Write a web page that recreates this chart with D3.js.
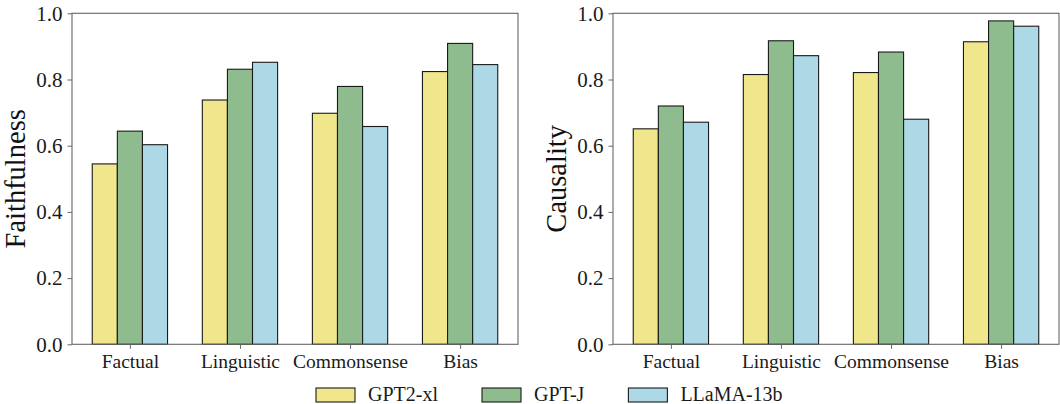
<!DOCTYPE html>
<html>
<head>
<meta charset="utf-8">
<script src="https://cdn.jsdelivr.net/npm/d3@7"></script>
<style>
  body { margin: 0; background: #fff; }
  svg { display: block; font-family: "Liberation Serif", "DejaVu Serif", serif; }
</style>
</head>
<body>
<svg id="chart" width="1060" height="404"></svg>
<script>
const categories = ["Factual", "Linguistic", "Commonsense", "Bias"];
const models = ["GPT2-xl", "GPT-J", "LLaMA-13b"];
const modelColors = ["#F0E68C", "#8FBC8F", "#ADD8E6"];

// faithfulness per model, one value per category
const faithGPT2 = [0.545, 0.738, 0.698, 0.824];
const faithGPTJ = [0.644, 0.831, 0.779, 0.909];
const faithLLaMA = [0.603, 0.852, 0.658, 0.845];

// causality per model
const causGPT2 = [0.651, 0.815, 0.821, 0.914];
const causGPTJ = [0.720, 0.917, 0.883, 0.977];
const causLLaMA = [0.671, 0.872, 0.680, 0.961];

const yTicks = [0, 0.2, 0.4, 0.6, 0.8, 1.0];

const panels = [
  { label: "Faithfulness", series: [faithGPT2, faithGPTJ, faithLLaMA], left: 72 },
  { label: "Causality", series: [causGPT2, causGPTJ, causLLaMA], left: 613 }
];

const svg = d3.select("#chart");
const plotW = 446, plotTop = 13.3, plotBottom = 344.3;
const barW = 0.228;
const axisColor = "#666";
const serif = '"Liberation Serif", "DejaVu Serif", serif';

panels.forEach(p => {
  const x = d3.scaleLinear().domain([-0.526, 3.526]).range([p.left, p.left + plotW]);
  const y = d3.scaleLinear().domain([0, 1]).range([plotBottom, plotTop]);
  const g = svg.append("g");

  // bars
  p.series.forEach((vals, mi) => {
    g.selectAll(null)
      .data(vals)
      .enter()
      .append("rect")
      .attr("x", (d, i) => x(i + (mi - 1) * barW - barW / 2))
      .attr("width", x(barW) - x(0))
      .attr("y", d => y(d))
      .attr("height", d => y(0) - y(d))
      .attr("fill", modelColors[mi])
      .attr("stroke", "#1a1a1a")
      .attr("stroke-width", 1.1);
  });

  // y axis
  const yAxis = g.append("g")
    .attr("transform", `translate(${p.left},0)`)
    .call(d3.axisLeft(y).tickValues(yTicks).tickFormat(d3.format(".1f")).tickSize(4.5).tickPadding(5));
  // x axis
  const xAxis = g.append("g")
    .attr("transform", `translate(0,${plotBottom})`)
    .call(d3.axisBottom(x).tickValues([0, 1, 2, 3]).tickFormat(i => categories[i]).tickSize(4.5).tickPadding(5));

  [yAxis, xAxis].forEach(a => {
    a.attr("font-family", serif);
    a.select(".domain").remove();
    a.selectAll("line").attr("stroke", axisColor).attr("stroke-width", 1);
    a.selectAll("text").attr("fill", "#1a1a1a");
  });
  yAxis.attr("font-size", 21);
  xAxis.attr("font-size", 19.5);

  // frame
  g.append("rect")
    .attr("x", p.left).attr("y", plotTop)
    .attr("width", plotW).attr("height", plotBottom - plotTop)
    .attr("fill", "none")
    .attr("stroke", axisColor)
    .attr("stroke-width", 1.1);

  // y label
  g.append("text")
    .attr("transform", `translate(${p.left - 47},${(plotTop + plotBottom) / 2}) rotate(-90)`)
    .attr("text-anchor", "middle")
    .style("font-size", "28.5px")
    .attr("fill", "#111")
    .text(p.label);
});

// legend
const legend = svg.append("g").attr("transform", "translate(316,388)");
let lx = 0;
models.forEach((m, i) => {
  const item = legend.append("g").attr("transform", `translate(${lx},0)`);
  item.append("rect")
    .attr("width", 39).attr("height", 14)
    .attr("fill", modelColors[i])
    .attr("stroke", "#1a1a1a")
    .attr("stroke-width", 1.1);
  const t = item.append("text")
    .attr("x", 52).attr("y", 13)
    .attr("fill", "#1a1a1a")
    .style("font-size", "20px")
    .text(m);
  lx += 52 + t.node().getComputedTextLength() + 44;
});
</script>
</body>
</html>
